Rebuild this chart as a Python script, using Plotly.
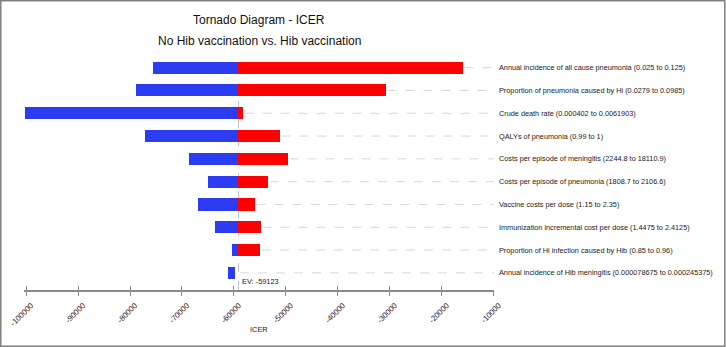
import plotly.graph_objects as go

labels = [
    "Annual incidence of all cause pneumonia (0.025 to 0.125)",
    "Proportion of pneumonia caused by Hi (0.0279 to 0.0985)",
    "Crude death rate (0.000402 to 0.0061903)",
    "QALYs of pneumonia (0.99 to 1)",
    "Costs per episode of meningitis (2244.8 to 18110.9)",
    "Costs per episode of pneumonia (1808.7 to 2106.6)",
    "Vaccine costs per dose (1.15 to 2.35)",
    "Immunization incremental cost per dose (1.4475 to 2.4125)",
    "Proportion of Hi infection caused by Hib (0.85 to 0.96)",
    "Annual incidence of Hib meningitis (0.000078675 to 0.000245375)",
]
low_values = [-75650, -78900, -100300, -77100, -68690, -64990, -66840, -63590, -60340, -61170]
high_values = [-15880, -30750, -58240, -51160, -49560, -53390, -55940, -54790, -54910, -59830]
ev = -59123
tick_values = [-100000, -90000, -80000, -70000, -60000, -50000, -40000, -30000, -20000, -10000]

FONT = "Liberation Sans, Arial, sans-serif"
BLUE = "#2b3cf2"
RED = "#ff0000"

rows = list(range(len(labels)))
blue_base = low_values
blue_len = [min(h, ev) - l for l, h in zip(low_values, high_values)]
red_base = [ev for _ in high_values]
red_len = [max(h - ev, 0) for h in high_values]

fig = go.Figure()
fig.add_trace(go.Bar(y=rows, x=blue_len, base=blue_base, orientation="h",
                     marker=dict(color=BLUE, line=dict(width=0)), width=0.53,
                     showlegend=False, hoverinfo="skip"))
fig.add_trace(go.Bar(y=rows, x=red_len, base=red_base, orientation="h",
                     marker=dict(color=RED, line=dict(width=0)), width=0.53,
                     showlegend=False, hoverinfo="skip"))

x_range = [-100400, -9950]

# dashed guide lines from bar end to right edge
for r, h in zip(rows, high_values):
    fig.add_shape(type="line", xref="x", yref="y", x0=max(h, ev) + 300, x1=x_range[1],
                  y0=r, y1=r, line=dict(color="#d8d8d8", width=1, dash="dash"), layer="below")

# EV line
fig.add_shape(type="line", xref="x", yref="paper", x0=ev, x1=ev, y0=0, y1=1,
              line=dict(color="#b8c4d8", width=1, dash="dash"), layer="below")

fig.add_annotation(xref="x", yref="paper", x=ev, y=0.036, xanchor="left", yanchor="middle",
                   xshift=2, text=f"EV: {ev}", showarrow=False,
                   font=dict(family=FONT, size=7.4, color="#1a1a1a"))

fig.add_annotation(xref="paper", yref="paper", x=0.5, y=1.1538, yanchor="middle",
                   text="Tornado Diagram - ICER", showarrow=False,
                   font=dict(family=FONT, size=12, color="#111"))
fig.add_annotation(xref="paper", yref="paper", x=0.5, y=1.0641, yanchor="middle",
                   text="No Hib vaccination vs. Hib vaccination", showarrow=False,
                   font=dict(family=FONT, size=12, color="#111"))
fig.add_annotation(xref="paper", yref="paper", x=0.5, y=-0.1667, yanchor="middle",
                   text="ICER", showarrow=False,
                   font=dict(family=FONT, size=7.4, color="#1a1a1a"))

# outer frame
fig.add_shape(type="rect", xref="paper", yref="paper", x0=-0.0494, x1=1.4911,
              y0=-0.2404, y1=1.2361, line=dict(color="#808080", width=1.5))

fig.update_layout(
    width=726, height=347,
    margin=dict(l=24, r=232, t=56, b=57, autoexpand=False),
    paper_bgcolor="white", plot_bgcolor="white",
    barmode="overlay",
    bargap=0,
    xaxis=dict(range=x_range, tickvals=tick_values, ticktext=[str(v) for v in tick_values],
               tickangle=-45, ticks="outside", ticklen=4, tickcolor="#8a8a8a",
               showline=True, linecolor="#8a8a8a", linewidth=2, showgrid=False,
               zeroline=False, automargin=False, ticklabelshift=5, ticklabelstandoff=2,
               tickfont=dict(family=FONT, size=7.8, color="#1a1a1a")),
    xaxis2=dict(range=x_range, overlaying="x", matches="x", tickvals=tick_values,
                ticks="inside", ticklen=4, tickcolor="#8a8a8a", showticklabels=False,
                showline=False, showgrid=False, zeroline=False, side="bottom",
                automargin=False),
    yaxis=dict(range=[9.75, -0.51], tickvals=rows, ticktext=labels, side="right",
               showgrid=False, zeroline=False, showline=False, ticks="",
               ticklabelstandoff=4, automargin=False,
               tickfont=dict(family=FONT, size=7.3, color="#1a1a1a")),
)
fig.add_trace(go.Scatter(x=[None], y=[None], xaxis="x2", showlegend=False))

fig.write_html("out.html", config={"displayModeBar": False},
               post_script="document.body.style.margin='0';document.body.style.overflow='hidden';")
